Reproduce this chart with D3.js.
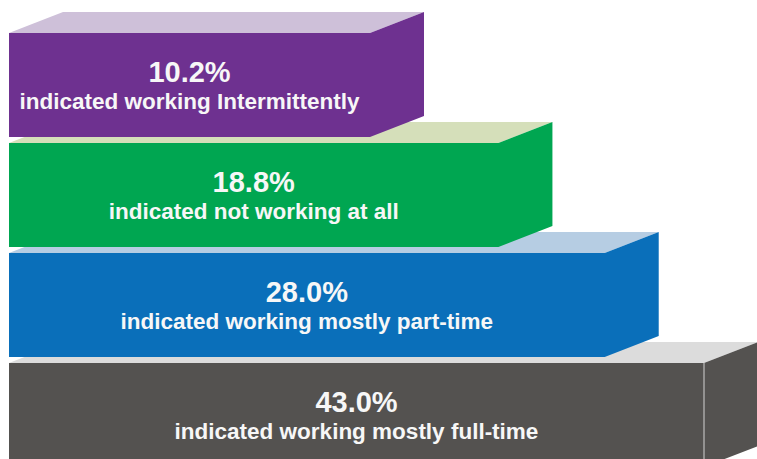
<!DOCTYPE html>
<html>
<head>
<meta charset="utf-8">
<script src="https://cdn.jsdelivr.net/npm/d3@7"></script>
<style>
  body { margin: 0; background: #fff; }
  text { font-family: "Liberation Sans", Arial, sans-serif; font-weight: bold; fill: #f7f7f7; }
</style>
</head>
<body>
<div id="chart"></div>
<script>
// data, top bar first
var categories = ["intermittent", "notworking", "parttime", "fulltime"];
var values = [10.2, 18.8, 28.0, 43.0];
var labels = ["indicated working Intermittently", "indicated not working at all",
              "indicated working mostly part-time", "indicated working mostly full-time"];

var width = 757, height = 459;

var svg = d3.select("#chart")
  .append("svg")
    .attr("width", width)
    .attr("height", height);

var data = categories.map(function(c, i) {
  return {key: c, value: values[i], label: labels[i], rank: i};
});

// the bars are a stepped pyramid: front width grows with rank, not value
var x = d3.scalePow()
  .exponent(0.87)
  .domain([0, categories.length - 1])
  .range([370, 704]);

var y = d3.scaleBand()
  .domain(categories)
  .range([33, 467])
  .paddingInner(0.055);

var frontColor = d3.scaleOrdinal()
  .domain(categories)
  .range(["#6e3190", "#00a651", "#0a6fba", "#545250"]);

var topColor = d3.scaleOrdinal()
  .domain(categories)
  .range(["#cec0d9", "#d5dfba", "#b6cde3", "#dcdcdc"]);

var x0 = 9, dx = 54, dy = 21;

// draw from the bottom bar up so upper bars cover the lower top faces
var bars = svg.selectAll("g.bar")
  .data(data.slice().reverse())
  .enter()
  .append("g")
  .attr("class", "bar");

// top face
bars.append("path")
  .attr("d", function(d) {
    var x1 = x(d.rank), yt = y(d.key);
    return "M" + x0 + "," + yt + "L" + (x0 + dx) + "," + (yt - dy) +
           "L" + (x1 + dx) + "," + (yt - dy) + "L" + x1 + "," + yt + "Z";
  })
  .style("fill", function(d) { return topColor(d.key); });

// front + side face in one shape (same colour, no seam)
bars.append("path")
  .attr("d", function(d) {
    var x1 = x(d.rank), yt = y(d.key), h = y.bandwidth();
    return "M" + x0 + "," + yt + "L" + x1 + "," + yt +
           "L" + (x1 + dx) + "," + (yt - dy) + "L" + (x1 + dx) + "," + (yt + h - dy) +
           "L" + x1 + "," + (yt + h) + "L" + x0 + "," + (yt + h) + "Z";
  })
  .style("fill", function(d) { return frontColor(d.key); });

// light edge between front and side on the grey block
bars.filter(function(d) { return d.key == "fulltime"; })
  .append("line")
  .attr("x1", function(d) { return x(d.rank); })
  .attr("x2", function(d) { return x(d.rank); })
  .attr("y1", function(d) { return y(d.key); })
  .attr("y2", function(d) { return y(d.key) + y.bandwidth(); })
  .style("stroke", "#a9a8a7")
  .style("stroke-width", 1.5);

bars.append("text")
  .attr("x", function(d) { return (x0 + x(d.rank)) / 2; })
  .attr("y", function(d) { return y(d.key) + 49; })
  .attr("text-anchor", "middle")
  .style("font-size", "29px")
  .text(function(d) { return d.value.toFixed(1) + "%"; });

bars.append("text")
  .attr("x", function(d) { return (x0 + x(d.rank)) / 2; })
  .attr("y", function(d) { return y(d.key) + 76; })
  .attr("text-anchor", "middle")
  .style("font-size", "22.5px")
  .text(function(d) { return d.label; });
</script>
</body>
</html>
